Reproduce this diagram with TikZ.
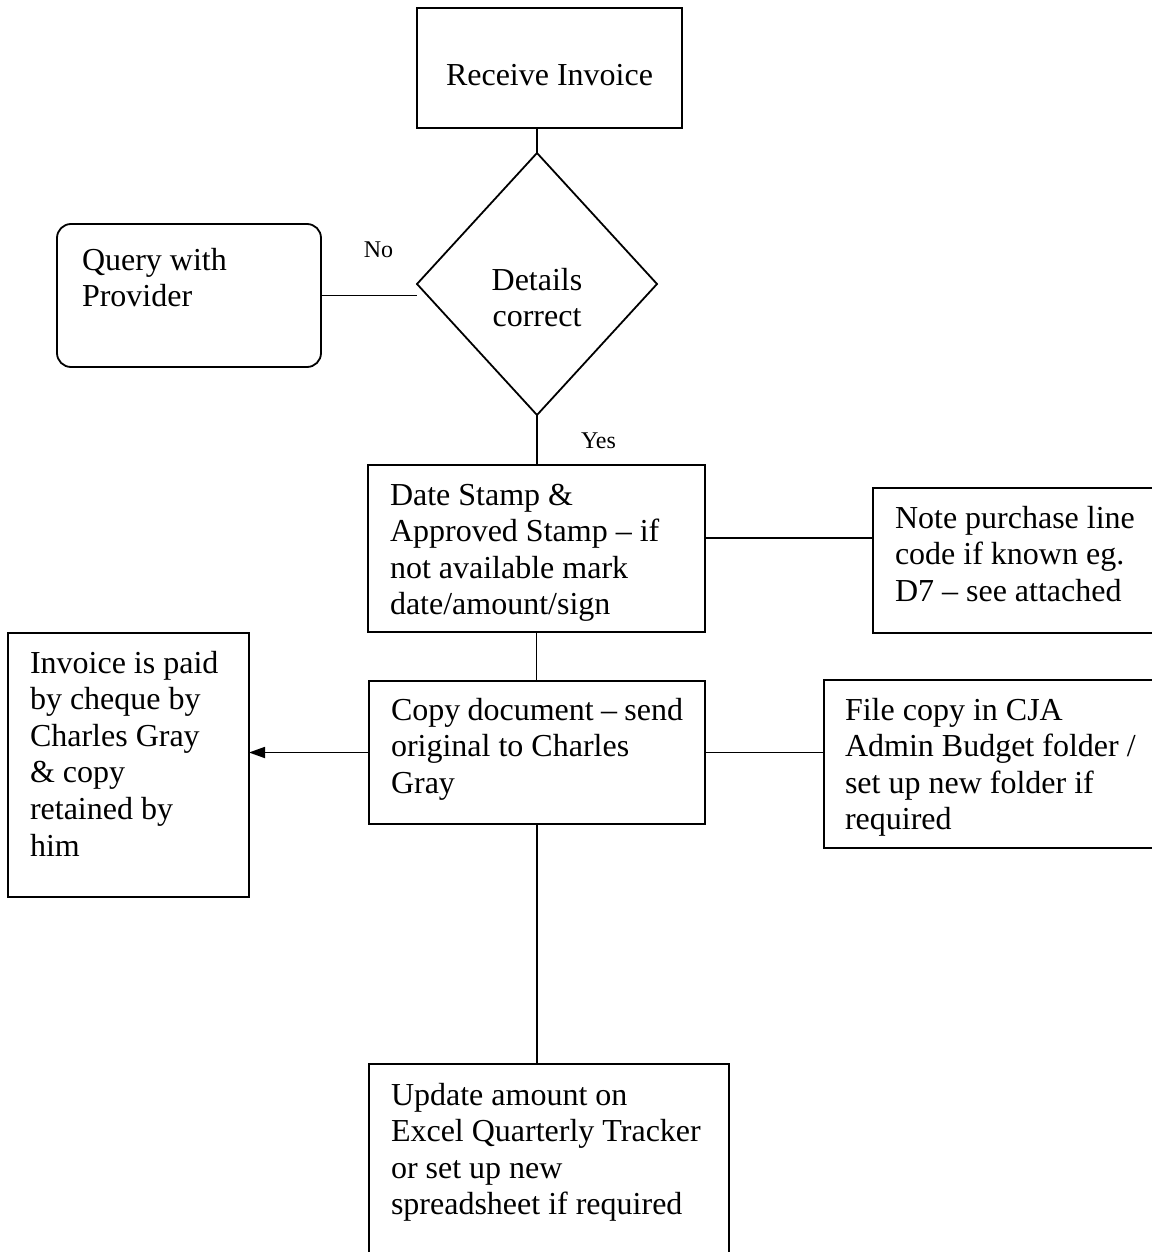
\documentclass[tikz,border=0pt]{standalone}
\usepackage{fontspec}
\setmainfont{Liberation Serif}
\usepackage{tikz}
\usetikzlibrary{shapes.geometric, arrows.meta, positioning}

% text sits at the top of a box of fixed size
\newcommand{\boxtxt}[4][7.2pt]{\parbox[t][#2][t]{#3}{\raggedright\vspace*{#1}\strut #4}}

\begin{document}
\begin{tikzpicture}[x=0.5pt, y=-0.5pt, line width=0.9pt,
        every node/.style={font=\fontsize{16}{18.3}\selectfont, outer sep=0pt},
        stepbox/.style={draw, rectangle, anchor=north west, inner xsep=11pt, inner ysep=0pt},
        decide/.style={draw, diamond, minimum width=120pt, minimum height=131pt, inner sep=0pt},
        answer/.style={font=\fontsize{12}{14}\selectfont, anchor=base, inner sep=0pt},
      ]
      \useasboundingbox (0,0) rectangle (1151,1252);
      \node[stepbox] (recv) at (417,8) {\boxtxt[25.7pt]{60pt}{110.5pt}{\centering Receive Invoice}};
      \node[decide] (check) at (537,284) {\boxtxt[10.2pt]{40pt}{60pt}{\centering Details\\correct}};
      \node[stepbox, rounded corners=7pt, inner xsep=12.5pt] (query) at (57,224) {\boxtxt[10.2pt]{71.5pt}{107pt}{Query with\\Provider}};
      \node[stepbox] (stamp) at (368,465) {\boxtxt{83.5pt}{146.5pt}{Date Stamp \&\\Approved Stamp -- if\\not available mark\\date/amount/sign}};
      \node[stepbox] (note) at (873,488) {\boxtxt{72.5pt}{126.5pt}{Note purchase line\\code if known eg.\\D7 -- see attached}};
      \node[stepbox] (copy) at (369,681) {\boxtxt[6.7pt]{71.5pt}{146pt}{Copy document -- send\\original to Charles\\Gray}};
      \node[stepbox] (paid) at (8,633) {\boxtxt{132pt}{98.5pt}{Invoice is paid\\by cheque by\\Charles Gray\\\& copy\\retained by\\him}};
      \node[stepbox, inner xsep=10.5pt] (file) at (824,680) {\boxtxt{84pt}{152pt}{File copy in CJA\\Admin Budget folder /\\set up new folder if\\required}};
      \node[stepbox] (update) at (369,1064) {\boxtxt[7.7pt]{100pt}{158pt}{Update amount on\\Excel Quarterly Tracker\\or set up new\\spreadsheet if required}};
      \node[answer] (no) at (378.5,257) {No};
      \node[answer] (yes) at (598.5,448) {Yes};
      % connectors
      \draw (check.north |- recv.south) -- (check.north);
      \draw (query.east) -- (query.east -| check.west);
      \draw (check.south) -- (check.south |- stamp.north);
      \draw ([yshift=5.25pt]stamp.east) -- ([yshift=5.25pt]stamp.east -| note.west);
      \draw (stamp.south) -- (stamp.south |- copy.north);
      \draw[-{Triangle[length=8pt, width=5.5pt]}] (copy.west) -- (copy.west -| paid.east);
      \draw (copy.east) -- (copy.east -| file.west);
      \draw (copy.south) -- (copy.south |- update.north);
\end{tikzpicture}
\end{document}
